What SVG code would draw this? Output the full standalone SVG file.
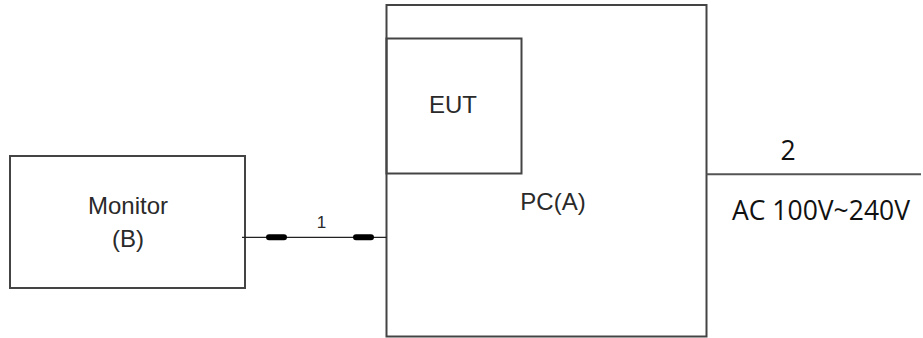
<svg xmlns="http://www.w3.org/2000/svg" width="923" height="338" viewBox="0 0 923 338">
<style>
.box{fill:none;stroke:#444;stroke-width:2}
.t{font-family:"Liberation Sans",Arial,sans-serif;fill:#2a2a2a;font-size:24px;text-anchor:middle}
.c{font-family:"Open Sans","Liberation Sans",sans-serif;fill:#111;font-size:26.5px}
.wire{stroke:#222;stroke-width:1.2;fill:none}
.plug{stroke:#000;stroke-width:6;stroke-linecap:round}
</style>
<rect width="923" height="338" fill="#fff"/>
<g id="pc">
<rect class="box" x="386.5" y="5" width="320" height="331.5"/>
<text class="t" x="553" y="209.5">PC(A)</text>
</g>
<g id="eut">
<rect class="box" x="386.5" y="38.5" width="135" height="135"/>
<text class="t" x="453" y="113">EUT</text>
</g>
<g id="monitor">
<rect class="box" x="10" y="156" width="235" height="132"/>
<text class="t" x="128" y="214">Monitor</text>
<text class="t" x="128" y="246.5">(B)</text>
</g>
<g id="connectors">
<line class="wire" x1="242" y1="237.3" x2="386.5" y2="237.3"/>
<line class="plug" x1="269" y1="237.3" x2="284" y2="237.3"/>
<line class="plug" x1="356" y1="237.3" x2="371" y2="237.3"/>
<text class="t" x="321.5" y="227.5" style="font-size:17px">1</text>
<line class="wire" x1="706.5" y1="174.3" x2="921" y2="174.3" style="stroke-width:2;stroke:#555"/>
<text class="c" x="788" y="160" text-anchor="middle">2</text>
<text class="c" x="732" y="220">AC 100V~240V</text>
</g>
</svg>
